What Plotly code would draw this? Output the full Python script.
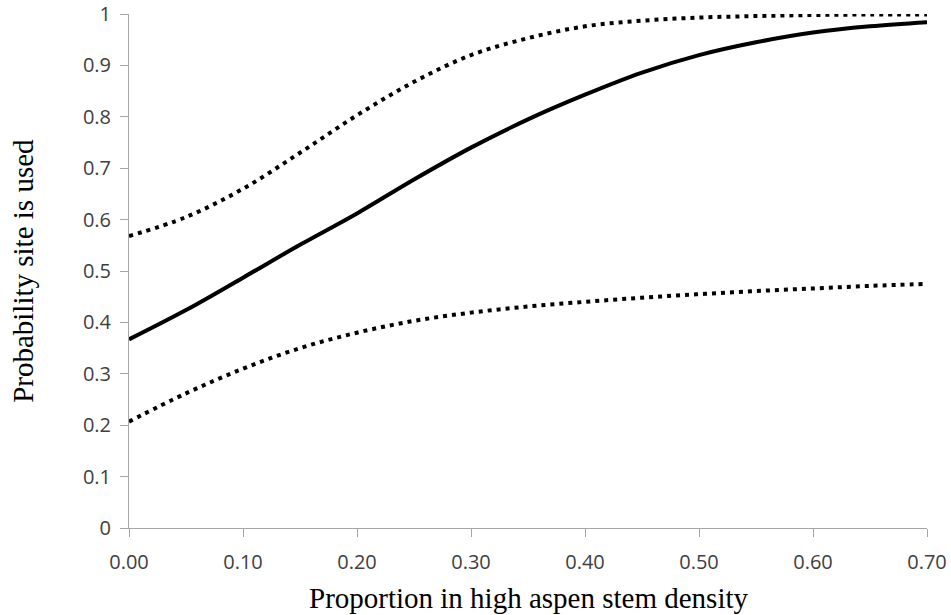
import plotly.graph_objects as go

x_vals = [0.00, 0.05, 0.10, 0.15, 0.20, 0.25, 0.30, 0.35, 0.40, 0.45, 0.50, 0.55, 0.60, 0.65, 0.70]
predicted = [0.367, 0.424, 0.487, 0.551, 0.612, 0.678, 0.740, 0.795, 0.843, 0.886, 0.920, 0.945, 0.964, 0.976, 0.984]
upper_ci = [0.568, 0.605, 0.660, 0.730, 0.803, 0.868, 0.920, 0.953, 0.976, 0.987, 0.993, 0.996, 0.998, 0.999, 0.999]
lower_ci = [0.207, 0.262, 0.310, 0.350, 0.380, 0.403, 0.419, 0.431, 0.440, 0.448, 0.455, 0.461, 0.466, 0.471, 0.475]

x_ticks = [0.0, 0.1, 0.2, 0.3, 0.4, 0.5, 0.6, 0.7]
x_ticklabels = ["0.00", "0.10", "0.20", "0.30", "0.40", "0.50", "0.60", "0.70"]
y_ticks = [0, 0.1, 0.2, 0.3, 0.4, 0.5, 0.6, 0.7, 0.8, 0.9, 1.0]
y_ticklabels = ["0", "0.1", "0.2", "0.3", "0.4", "0.5", "0.6", "0.7", "0.8", "0.9", "1"]

x_title = "Proportion in high aspen stem density"
y_title = "Probability site is used"

fig = go.Figure()
fig.add_trace(go.Scatter(x=x_vals, y=upper_ci, mode="lines", line=dict(color="black", width=4, dash="4px,5px", shape="spline"), showlegend=False))
fig.add_trace(go.Scatter(x=x_vals, y=lower_ci, mode="lines", line=dict(color="black", width=4, dash="4px,5px", shape="spline"), showlegend=False))
fig.add_trace(go.Scatter(x=x_vals, y=predicted, mode="lines", line=dict(color="black", width=4, shape="spline"), showlegend=False))

axis_color = "#a6a6a6"
tick_font = dict(family="Open Sans", size=20, color="#404040")

fig.update_xaxes(range=[0, 0.7], tickvals=x_ticks, ticktext=x_ticklabels, showgrid=False, zeroline=False,
                 showline=True, linecolor=axis_color, linewidth=1, ticks="outside", ticklen=8, tickcolor=axis_color,
                 tickfont=tick_font, automargin=False, ticklabeloverflow="allow", ticklabelstandoff=8)
fig.update_yaxes(range=[0, 1], tickvals=y_ticks, ticktext=y_ticklabels, showgrid=False, zeroline=False,
                 showline=True, linecolor=axis_color, linewidth=1, ticks="outside", ticklen=8, tickcolor=axis_color,
                 tickfont=tick_font, automargin=False, ticklabeloverflow="allow", ticklabelstandoff=5)

title_font = dict(family="Liberation Serif", size=29, color="black")
fig.add_annotation(text=x_title, xref="paper", yref="paper", x=0.5, y=-0.136, showarrow=False,
                   font=title_font, xanchor="center", yanchor="middle")
fig.add_annotation(text=y_title, xref="paper", yref="paper", x=-0.133, y=0.5, showarrow=False,
                   font=title_font, textangle=-90, xanchor="center", yanchor="middle")

fig.update_layout(width=951, height=615, margin=dict(l=129, r=24, t=14, b=87),
                  plot_bgcolor="white", paper_bgcolor="white", hovermode=False)

fig.write_html("out.html", config={"displayModeBar": False},
               post_script="document.body.style.margin='0';")
